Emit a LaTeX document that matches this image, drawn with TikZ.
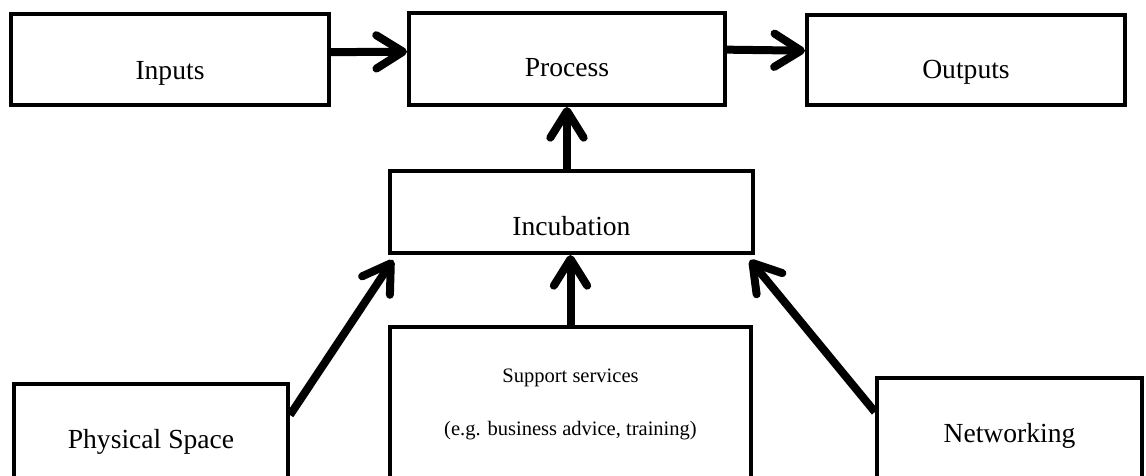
\documentclass[tikz,border=0pt]{standalone}
\usepackage{fontspec}
\setmainfont{Liberation Serif}
\usetikzlibrary{arrows.meta}
\tikzset{
  box/.style={draw, line width=3pt, inner sep=0pt, font=\fontsize{20.7}{24}\selectfont},
  topbox/.style={box, text depth=0pt, text height=#1},
  arr/.style={line width=6pt, -{Straight Barb[round, length=20pt, width=25pt]}}
}
\begin{document}
\begin{tikzpicture}
    \def\x{0.75pt}
    \def\y{-0.75pt}
    \useasboundingbox (0,0) rectangle (1146*\x, 475*\y);
    \clip (0,0) rectangle (1146*\x, 475*\y);
    \node[topbox=30pt, minimum width=318*\x, minimum height=91*\x] (A0_0) at (170*\x, 59.5*\y) {Inputs};
    \node[topbox=25.5pt, minimum width=316*\x, minimum height=92*\x] (A0_1) at (567*\x, 59*\y) {Process};
    \node[topbox=27pt, minimum width=318*\x, minimum height=90*\x] (A0_2) at (966*\x, 60*\y) {Outputs};
    \node[topbox=34.5pt, minimum width=363*\x, minimum height=82*\x] (A1_1) at (571.5*\x, 212*\y) {Incubation};
    \node[box, minimum width=274*\x, minimum height=116*\x] (A2_0) at (151*\x, 442*\y) {Physical Space};
    \node[box, align=center, font=\fontsize{15.4}{39.75}\selectfont, minimum width=361*\x, minimum height=154*\x] (A2_1) at (570.5*\x, 404*\y) {Support services\\(e.g. business advice, training)};
    \node[box, minimum width=265*\x, minimum height=116*\x] (A2_2) at (1009.5*\x, 436*\y) {Networking};
    \path ([yshift=5.5pt]A0_0.east) edge [arr] ([yshift=5.5pt]A0_1.west);
    \path ([yshift=7pt]A0_1.east) edge [arr] ([yshift=7pt]A0_2.west);
    \path (A1_1.north -| A0_1.south) edge [arr] (A0_1.south);
    \path (A2_1.north) edge [arr] (A2_1.north |- A1_1.south);
    \path ([yshift=-24.75pt]A2_0.north east) edge [arr] ([shift={(3.75pt,-3.75pt)}]A1_1.south west);
    \path ([yshift=-27pt]A2_2.north west) edge [arr] ([shift={(-3.75pt,-3.75pt)}]A1_1.south east);
  \end{tikzpicture}
\end{document}
